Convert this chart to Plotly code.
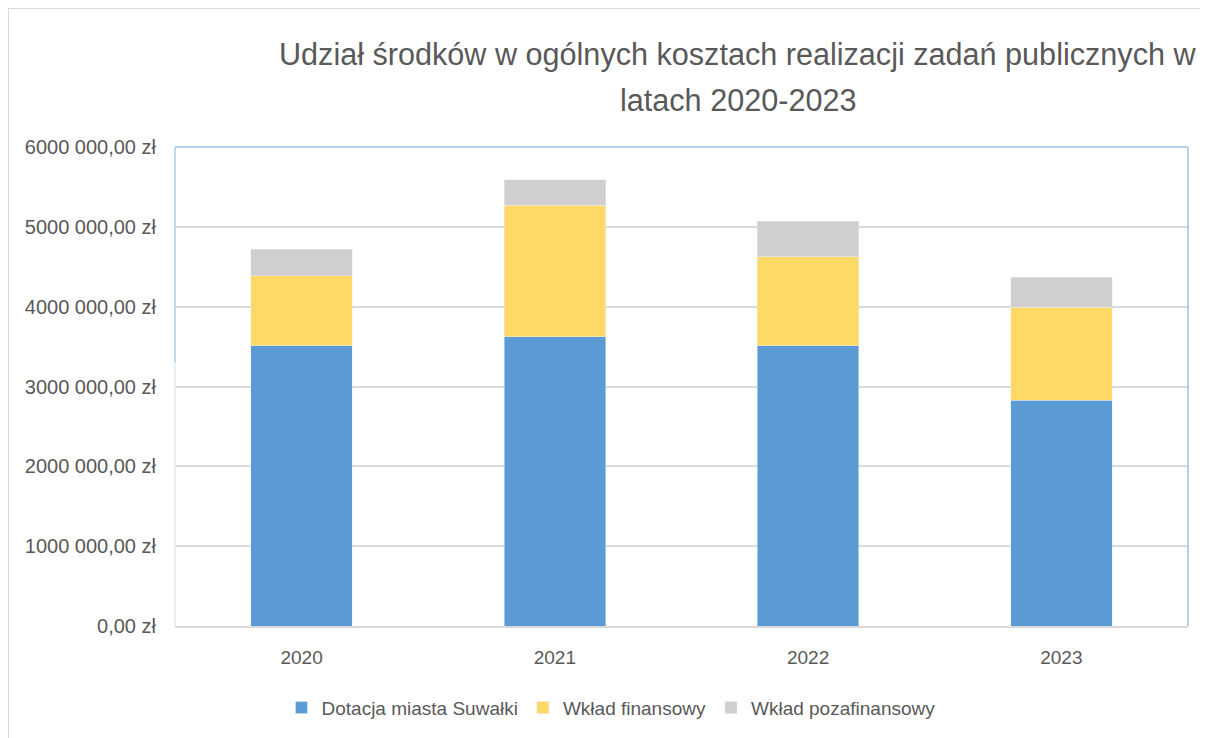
import plotly.graph_objects as go

years = ["2020", "2021", "2022", "2023"]
dotacja = [3510000, 3625000, 3510000, 2830000]
wklad_fin = [880000, 1645000, 1115000, 1160000]
wklad_pozafin = [330000, 320000, 445000, 380000]
tick_vals = [0, 1000000, 2000000, 3000000, 4000000, 5000000, 6000000]
tick_text = ["0,00 zł", "1000 000,00 zł", "2000 000,00 zł", "3000 000,00 zł",
             "4000 000,00 zł", "5000 000,00 zł", "6000 000,00 zł"]
title_lines = ["Udział środków w ogólnych kosztach realizacji zadań publicznych w",
               "latach 2020-2023"]

W, H = 1208, 738
L, R, T, B = 167, 28, 139, 120
PW, PH = W - L - R, H - T - B

font = "Liberation Sans, Arial, sans-serif"
txt = "#595959"


def px_x(fx):
    return (fx - L) / PW


def px_y(fy):
    return 1 + (T - fy) / PH


fig = go.Figure()
fig.add_bar(x=years, y=dotacja, name="Dotacja miasta Suwałki", marker_color="#5B9BD5")
fig.add_bar(x=years, y=wklad_fin, name="Wkład finansowy", marker_color="#FFD966")
fig.add_bar(x=years, y=wklad_pozafin, name="Wkład pozafinansowy", marker_color="#D0CECE")

annotations = []
for line, fy in zip(title_lines, [47, 92]):
    annotations.append(dict(
        text=line, x=px_x(729.5), xref="paper", xanchor="center",
        y=px_y(fy), yref="paper", yanchor="middle",
        showarrow=False, font=dict(size=30.6, color=txt, family=font)))

fig.update_layout(
    width=W, height=H,
    margin=dict(l=L, r=R, t=T, b=B),
    barmode="stack", bargap=0.6,
    paper_bgcolor="white", plot_bgcolor="white",
    font=dict(family=font, color=txt, size=17),
    showlegend=True,
    legend=dict(orientation="h", x=px_x(603), xanchor="center", y=-0.131, yanchor="top",
                font=dict(size=19, color=txt), itemwidth=30, traceorder="normal"),
    annotations=annotations,
    shapes=[
        dict(type="line", xref="paper", yref="paper", x0=0, x1=1, y0=1, y1=1,
             line=dict(color="#9DC3E6", width=1.5), layer="above"),
        dict(type="line", xref="paper", yref="paper", x0=1, x1=1, y0=0, y1=1,
             line=dict(color="#9DC3E6", width=1.5), layer="above"),
        dict(type="line", xref="paper", yref="paper", x0=0, x1=0, y0=0.55, y1=1,
             line=dict(color="#A9CBEB", width=1.5), layer="above"),
        dict(type="line", xref="paper", yref="paper", x0=0, x1=0, y0=0, y1=0.55,
             line=dict(color="#DDEBF7", width=1.5), layer="above"),
        dict(type="rect", xref="paper", yref="paper",
             x0=px_x(0), x1=px_x(W + 20),
             y0=px_y(H + 20), y1=px_y(0),
             line=dict(color="#D9D9D9", width=2)),
    ],
)
fig.update_xaxes(showgrid=False, ticks="", tickfont=dict(size=19, color=txt),
                 ticklabelstandoff=13,
                 showline=True, linecolor="#D9D9D9", linewidth=1.5)
fig.update_yaxes(range=[0, 6000000], tickvals=tick_vals, ticktext=tick_text,
                 showgrid=True, gridcolor="#D9D9D9", gridwidth=1.5,
                 zeroline=False, ticks="", ticklen=0, ticklabelstandoff=18,
                 tickfont=dict(size=20, color=txt))

fig.write_html("out.html")
